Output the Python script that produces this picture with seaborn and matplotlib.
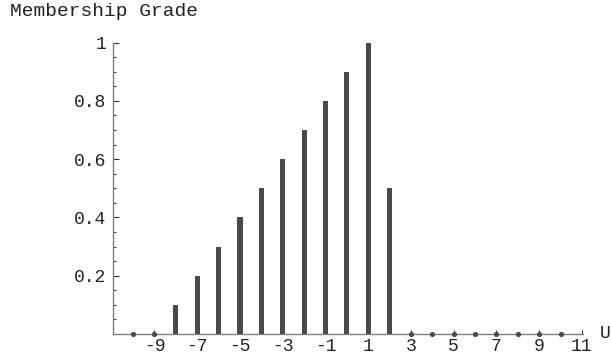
import numpy as np
import pandas as pd
import matplotlib.pyplot as plt
import seaborn as sns

sns.set_theme(style="white")
plt.rcParams['font.family'] = ['Liberation Mono', 'DejaVu Sans Mono']
plt.rc('xtick', labelsize=13)
plt.rc('ytick', labelsize=13)

# data
u = [-10, -9, -8, -7, -6, -5, -4, -3, -2, -1, 0, 1, 2, 3, 4, 5, 6, 7, 8, 9, 10]
grade = [0, 0, 0.1, 0.2, 0.3, 0.4, 0.5, 0.6, 0.7, 0.8, 0.9, 1.0, 0.5,
         0, 0, 0, 0, 0, 0, 0, 0]
xticks = [-9, -7, -5, -3, -1, 1, 3, 5, 7, 9, 11]
yticks = [0.2, 0.4, 0.6, 0.8, 1.0]
yticklabels = ["0.2", "0.4", "0.6", "0.8", "1"]

df = pd.DataFrame({"u": u, "grade": grade})
bar_color = "#4a4a4a"
axis_color = "#7f7f7f"

fig = plt.figure(figsize=(6.11, 3.6), dpi=100)
ax = fig.add_axes([113 / 611, 26 / 360, 470 / 611, 291.5 / 360])

sns.barplot(data=df, x="u", y="grade", native_scale=True, width=0.24,
            color=bar_color, saturation=1, linewidth=0, ax=ax, zorder=2)
zeros = df[df["grade"] == 0]
sns.scatterplot(data=zeros, x="u", y="grade", color=bar_color, s=14,
                linewidth=0, ax=ax, zorder=3, clip_on=False)

ax.set_xlim(-10.94, 11.05)
ax.set_ylim(0, 1.0)
ax.set(xlabel="", ylabel="")
ax.set_xticks(xticks)
ax.set_xticklabels([str(t) for t in xticks])
ax.set_yticks(yticks)
ax.set_yticklabels(yticklabels)
ax.set_yticks(np.arange(0.05, 1.0, 0.05), minor=True)

for side in ["top", "right"]:
    ax.spines[side].set_visible(False)
for side in ["left", "bottom"]:
    ax.spines[side].set_color(axis_color)
    ax.spines[side].set_linewidth(1.0)
    ax.spines[side].set_zorder(1)

ax.tick_params(axis="y", which="major", direction="in", length=4, width=0.8,
               color="#333333", pad=5, labelcolor="#222222", left=True)
ax.tick_params(axis="y", which="minor", direction="in", length=2, width=0.7,
               color="#333333", left=True)
ax.tick_params(axis="x", which="major", direction="in", length=3, width=0.8,
               color="#333333", pad=3, labelcolor="#222222", bottom=True)
ax.grid(False)

fig.text(10 / 611, 1 - 12 / 360, "Membership Grade", fontsize=14,
         color="#222222", ha="left", va="center")
fig.text(600 / 611, 1 - 333 / 360, "U", fontsize=13,
         color="#222222", ha="left", va="center")

fig.savefig("out.png", dpi=100)
